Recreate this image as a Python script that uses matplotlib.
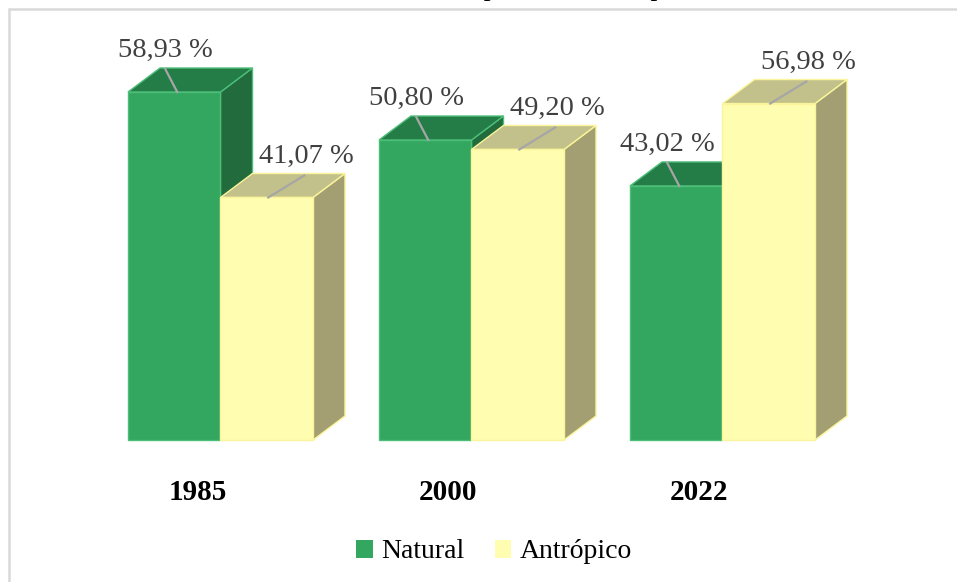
import numpy as np
import matplotlib.pyplot as plt
from matplotlib.patches import Polygon, Patch, Rectangle

# data
years = ['1985', '2000', '2022']
natural = [58.93, 50.80, 43.02]
antropico = [41.07, 49.20, 56.98]
series_names = ['Natural', 'Antrópico']
title = 'Gráfico 1 - Uso natural e antrópico do município de Montauri - RS'

plt.rcParams['font.family'] = ['Liberation Serif', 'DejaVu Serif']

W, H = 957, 582
fig = plt.figure(figsize=(W / 100, H / 100), dpi=100)
ax = fig.add_axes([0, 0, 1, 1])

# pixel scale of the plot: 251 px per year group, 5.905 px per percent
gx, gy = 251.0, 5.905
x0, y0 = 220.5, 440
ax.set_xlim(-x0 / gx, (W - x0) / gx)
ax.set_ylim((y0 - H) / gy, y0 / gy)
ax.axis('off')

w = 92.5 / gx
dx, dy = 32 / gx, 24 / gy

styles = {
    'Natural': dict(front='#33A65F', top='#247C47', side='#216B3D', edge='#4DBE78'),
    'Antrópico': dict(front='#FFFDB0', top='#C3C18B', side='#A39F72', edge='#FAF59A'),
}


def bar3d(xl, h, st):
    front = [(xl, 0), (xl + w, 0), (xl + w, h), (xl, h)]
    top = [(xl, h), (xl + w, h), (xl + w + dx, h + dy), (xl + dx, h + dy)]
    side = [(xl + w, 0), (xl + w + dx, dy), (xl + w + dx, h + dy), (xl + w, h)]
    for pts, c in [(side, st['side']), (top, st['top']), (front, st['front'])]:
        ax.add_patch(Polygon(pts, closed=True, facecolor=c, edgecolor=st['edge'], lw=1.0))


lab_kw = dict(fontsize=20.5, color='#404040', ha='center', va='center')
for i, yr in enumerate(years):
    hn, ha_ = natural[i], antropico[i]
    bar3d(i - w, hn, styles['Natural'])
    bar3d(i, ha_, styles['Antrópico'])

    # Natural label + leader
    cx = i - w / 2
    ax.plot([cx + 3 / gx, cx - 9 / gx], [hn, hn + 23 / gy], color='#A6A6A6', lw=1.6, zorder=5)
    ax.text(cx - 9 / gx, hn + 42 / gy, f'{hn:.2f} %'.replace('.', ','), **lab_kw)

    # Antrópico label + leader
    cx = i + w / 2
    ax.plot([cx + 1.5 / gx, cx + 37.5 / gx], [ha_, ha_ + 22 / gy], color='#A6A6A6', lw=1.6, zorder=5)
    ax.text(cx + 40 / gx, ha_ + 41 / gy, f'{ha_:.2f} %'.replace('.', ','), **lab_kw)

    ax.text(i - 23 / gx, -52 / gy, yr, fontsize=21, fontweight='bold', color='black',
            ha='center', va='center')

handles = [Patch(facecolor=styles[n]['front'], edgecolor='none', label=n) for n in series_names]
fig.legend(handles=handles, loc='center', bbox_to_anchor=(494 / W, 1 - 552 / H), ncol=2,
           frameon=False, fontsize=20, handlelength=0.6, handleheight=0.6,
           handletextpad=0.3, columnspacing=1.1)

# chart border (cut at right and bottom)
fig.patches.append(Rectangle((8.5 / W, -0.05), 1.1, 1.05 - 9 / H, transform=fig.transFigure,
                             fill=False, edgecolor='#D9D9D9', lw=1.8))
# title, mostly outside the crop
fig.text(515 / W, 1 + 5 / H, title, ha='center', va='baseline', fontsize=20, color='black')

fig.savefig('out.png', dpi=100)
